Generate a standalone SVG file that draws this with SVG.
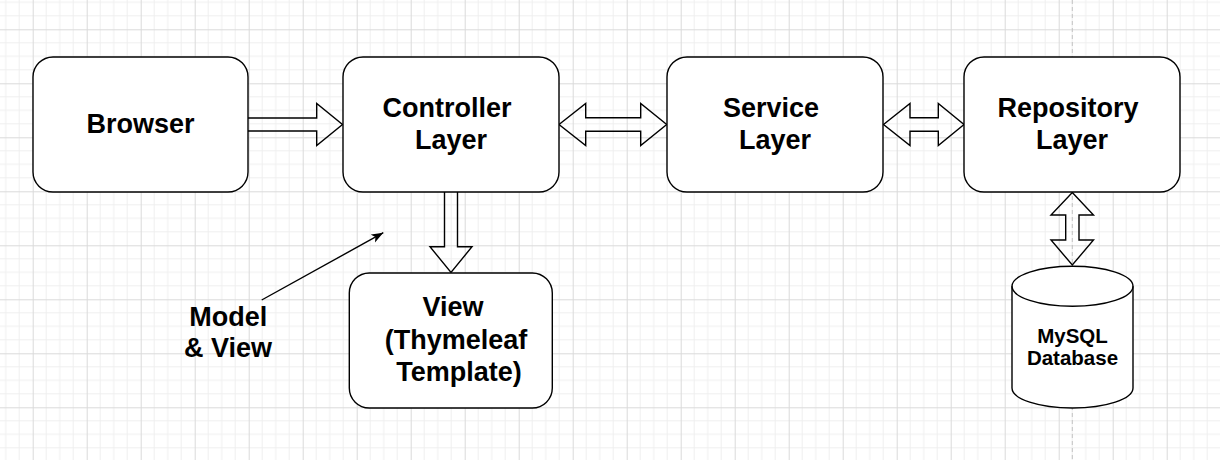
<svg xmlns="http://www.w3.org/2000/svg" width="1220" height="460" viewBox="0 0 1220 460">
  <style>
    .box { fill: #ffffff; stroke: #000000; stroke-width: 1.4; }
    .blk { fill: none; stroke: #000000; stroke-width: 1.4; stroke-linejoin: miter; }
    .lbl { font-family: "Liberation Sans", Arial, Helvetica, sans-serif; font-weight: bold; font-size: 27px; fill: #000000; text-anchor: middle; }
    .sm { font-size: 20.5px; }
    .minor { stroke: #efefef; stroke-width: 1; }
    .major { stroke: #dadada; stroke-width: 1; }
  </style>
  <defs>
    <pattern id="grid" patternUnits="userSpaceOnUse" x="32.7" y="29.3" width="54" height="54">
      <path class="minor" d="M13.5,0 V54 M27,0 V54 M40.5,0 V54 M0,13.5 H54 M0,27 H54 M0,40.5 H54"/>
      <path class="major" d="M0.5,0 V54 M0,0.5 H54"/>
    </pattern>
    <marker id="arr" markerUnits="userSpaceOnUse" markerWidth="14" markerHeight="10" refX="12" refY="4.5" orient="auto" viewBox="0 0 14 10">
      <path d="M0,0 L12,4.5 L0,9 L3,4.5 Z" fill="#000000"/>
    </marker>
  </defs>
  <rect x="0" y="0" width="1220" height="460" fill="#ffffff"/>
  <rect x="0" y="0" width="1220" height="460" fill="url(#grid)"/>
  <line x1="1072.3" y1="0" x2="1072.3" y2="460" stroke="#c4c4c4" stroke-width="1" stroke-dasharray="4 3"/>

  <g id="connectors">
    <path class="blk" d="M248,118 L316.7,118 L316.7,103.5 L342.5,124.5 L316.7,145.5 L316.7,131 L248,131"/>
    <path class="blk" d="M559,124.5 L585.7,103.5 L585.7,117.8 L640.7,117.8 L640.7,103.5 L666.7,124.5 L640.7,145.5 L640.7,131.2 L585.7,131.2 L585.7,145.5 Z"/>
    <path class="blk" d="M883.5,124.5 L910,103.5 L910,117.8 L938.3,117.8 L938.3,103.5 L964,124.5 L938.3,145.5 L938.3,131.2 L910,131.2 L910,145.5 Z"/>
    <path class="blk" d="M444.5,192 L444.5,246.7 L430,246.7 L451,272.5 L472,246.7 L457.5,246.7 L457.5,192"/>
    <path class="blk" d="M1072.3,192.5 L1093.5,215 L1079,215 L1079,240 L1093.5,240 L1072.3,265 L1051,240 L1065.7,240 L1065.7,215 L1051,215 Z"/>
    <line x1="261.7" y1="300" x2="383.3" y2="232.7" stroke="#000000" stroke-width="1.4" marker-end="url(#arr)"/>
  </g>

  <g id="browser">
    <rect class="box" x="33" y="57" width="215" height="135" rx="20" ry="20"/>
    <text class="lbl" x="140.5" y="133.3">Browser</text>
  </g>
  <g id="controller">
    <rect class="box" x="343" y="57" width="216" height="135" rx="20" ry="20"/>
    <text class="lbl" x="447" y="116.7">Controller</text>
    <text class="lbl" x="451" y="149.3">Layer</text>
  </g>
  <g id="service">
    <rect class="box" x="667" y="57" width="216" height="135" rx="20" ry="20"/>
    <text class="lbl" x="771" y="116.7">Service</text>
    <text class="lbl" x="775" y="149.3">Layer</text>
  </g>
  <g id="repository">
    <rect class="box" x="964" y="57" width="216" height="135" rx="20" ry="20"/>
    <text class="lbl" x="1068" y="116.7">Repository</text>
    <text class="lbl" x="1072" y="149.3">Layer</text>
  </g>
  <g id="view">
    <rect class="box" x="349.3" y="273" width="203" height="135" rx="20" ry="20"/>
    <text class="lbl" x="453" y="316">View</text>
    <text class="lbl" x="456" y="348.5">(Thymeleaf</text>
    <text class="lbl" x="459" y="380.5">Template)</text>
  </g>
  <g id="database">
    <path class="box" d="M1012,286.3 L1012,388 A60.5,20 0 0 0 1133,388 L1133,286.3 A60.5,20 0 0 0 1012,286.3 Z"/>
    <path fill="none" stroke="#000000" stroke-width="1.4" d="M1012,286.3 A60.5,20 0 0 0 1133,286.3"/>
    <text class="lbl sm" x="1072.5" y="342.7">MySQL</text>
    <text class="lbl sm" x="1072.5" y="365">Database</text>
  </g>
  <g id="model-view-label">
    <text class="lbl" x="228.3" y="326">Model</text>
    <text class="lbl" x="228" y="356.7">&amp; View</text>
  </g>
</svg>
